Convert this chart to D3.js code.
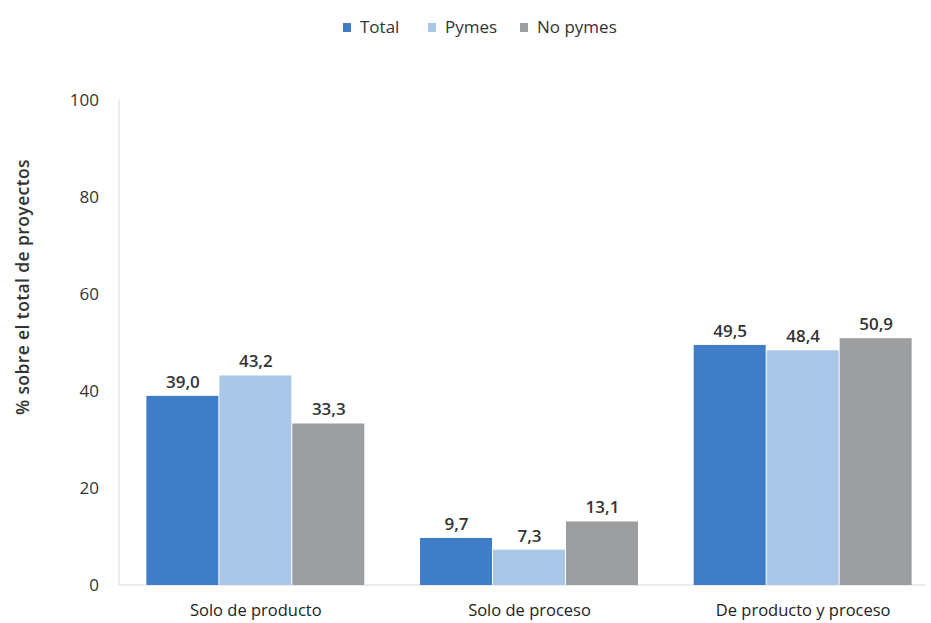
<!DOCTYPE html>
<html><head><meta charset="utf-8">
<script src="https://cdn.jsdelivr.net/npm/d3@7"></script>
<style>body{margin:0;background:#fff;} svg{font-family:"Open Sans",sans-serif;}</style>
</head><body>
<svg id="c" width="931" height="623"></svg>
<script>
const categories = ["Solo de producto", "Solo de proceso", "De producto y proceso"];
const seriesNames = ["Total", "Pymes", "No pymes"];
const total = [39.0, 9.7, 49.5];
const pymes = [43.2, 7.3, 48.4];
const noPymes = [33.3, 13.1, 50.9];
const yTicks = [0, 20, 40, 60, 80, 100];
const colors = ["#3f7dc8", "#abc7e8", "#9d9ea0"];

const series = [total, pymes, noPymes];
const svg = d3.select("#c");
const y = d3.scaleLinear().domain([0, 100]).range([585, 100]);
const x0 = d3.scaleBand().domain(categories).range([119, 940]).paddingInner(0.2).paddingOuter(0.1);
const x1 = d3.scaleBand().domain(seriesNames).range([0, x0.bandwidth()]);

// axes
svg.append("line").attr("x1", 119).attr("x2", 925).attr("y1", y(0)).attr("y2", y(0)).attr("stroke", "#d9d9d9");
svg.append("line").attr("x1", 119).attr("x2", 119).attr("y1", y(0)).attr("y2", y(100)).attr("stroke", "#d9d9d9");
svg.selectAll(".yt").data(yTicks).enter().append("text")
  .attr("x", 99).attr("y", d => y(d)).attr("dy", "0.35em").attr("text-anchor", "end")
  .attr("font-size", 17).attr("fill", "#333").text(d => d);
svg.append("text").attr("transform", "translate(29,287) rotate(-90)").attr("text-anchor", "middle")
  .attr("font-size", 17.5).attr("letter-spacing", 0.4).attr("font-weight", "600").attr("fill", "#333").text("% sobre el total de proyectos");

// bars
categories.forEach((c, i) => {
  const g = svg.append("g").attr("transform", `translate(${x0(c)},0)`);
  seriesNames.forEach((s, j) => {
    const v = series[j][i];
    g.append("rect").attr("x", x1(s)).attr("width", x1.bandwidth() - 1)
      .attr("y", y(v)).attr("height", y(0) - y(v)).attr("fill", colors[j]);
    g.append("text").attr("x", x1(s) + x1.bandwidth() / 2).attr("y", y(v) - 8)
      .attr("text-anchor", "middle").attr("font-size", 17).attr("font-weight", "600").attr("fill", "#333")
      .text(v.toFixed(1).replace(".", ","));
  });
  svg.append("text").attr("x", x0(c) + x0.bandwidth() / 2).attr("y", 616)
    .attr("text-anchor", "middle").attr("font-size", 16.5).attr("fill", "#222").text(c);
});

// legend
const legX = [343, 428, 520];
seriesNames.forEach((s, j) => {
  svg.append("rect").attr("x", legX[j]).attr("y", 23).attr("width", 8).attr("height", 9).attr("fill", colors[j]);
  svg.append("text").attr("x", legX[j] + 17).attr("y", 27).attr("dy", "0.35em")
    .attr("font-size", 17).attr("fill", "#333").text(s);
});
</script>
</body></html>
